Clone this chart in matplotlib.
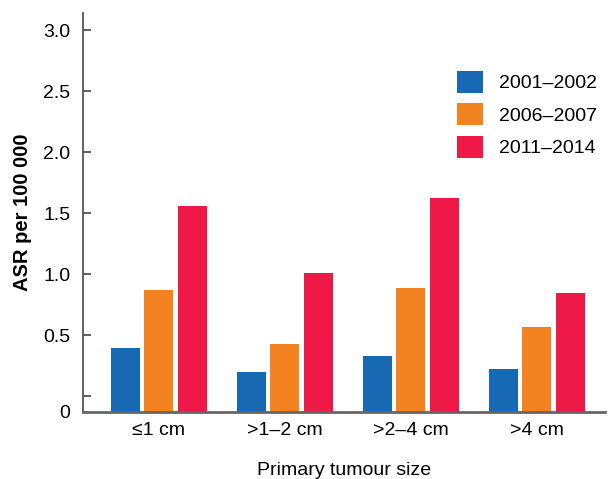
import matplotlib
matplotlib.use("Agg")
import matplotlib.pyplot as plt
import numpy as np

plt.rcParams['font.family'] = ['Liberation Sans', 'DejaVu Sans']

categories = ['≤1 cm', '>1–2 cm', '>2–4 cm', '>4 cm']
series_names = ['2001–2002', '2006–2007', '2011–2014']
values_2001 = [0.39, 0.20, 0.33, 0.22]
values_2006 = [0.87, 0.43, 0.885, 0.565]
values_2011 = [1.555, 1.01, 1.62, 0.845]
colors = ['#1769B4', '#F38321', '#EE1947']
ytick_vals = [0, 0.5, 1.0, 1.5, 2.0, 2.5, 3.0]
ytick_labels = ['', '0.5', '1.0', '1.5', '2.0', '2.5', '3.0']

ymin, ymax = -0.13, 3.14
FS = 14

fig = plt.figure(figsize=(6.08, 4.79), dpi=100)
ax = fig.add_axes([0.1365, 0.140, 0.8585, 0.833])

x = np.arange(len(categories))
width = 0.23
offset = 0.266
for i, (vals, name, c) in enumerate(zip([values_2001, values_2006, values_2011], series_names, colors)):
    vals = np.array(vals)
    ax.bar(x + (i - 1) * offset, vals - ymin, width, bottom=ymin, color=c, label=name)

ax.set_xlim(-0.6, 3.54)
ax.set_ylim(ymin, ymax)
ax.set_yticks([ymin] + ytick_vals)
ax.set_yticklabels(['0'] + ytick_labels)
ax.set_xticks(x)
ax.set_xticklabels(categories)
ax.tick_params(axis='y', direction='in', length=6, width=1.2, color='#444444', labelsize=FS, pad=9)
ax.tick_params(axis='x', length=0, labelsize=FS, pad=7)
ax.yaxis.get_major_ticks()[0].tick1line.set_visible(False)

for s in ['top', 'right']:
    ax.spines[s].set_visible(False)
ax.spines['left'].set_color('#555555')
ax.spines['left'].set_linewidth(1.3)
ax.spines['bottom'].set_color('#666666')
ax.spines['bottom'].set_linewidth(2)

ax.set_ylabel('ASR per 100 000', fontsize=14.5, fontweight='bold', labelpad=8)
ax.set_xlabel('Primary tumour size', fontsize=FS, labelpad=17)

ax.legend(loc='upper left', bbox_to_anchor=(0.7165, 0.855), frameon=False,
          borderpad=0, borderaxespad=0, handlelength=1.35, handleheight=1.35,
          labelspacing=0.55, handletextpad=0.8, fontsize=FS)

fig.savefig('out.png', dpi=100)
